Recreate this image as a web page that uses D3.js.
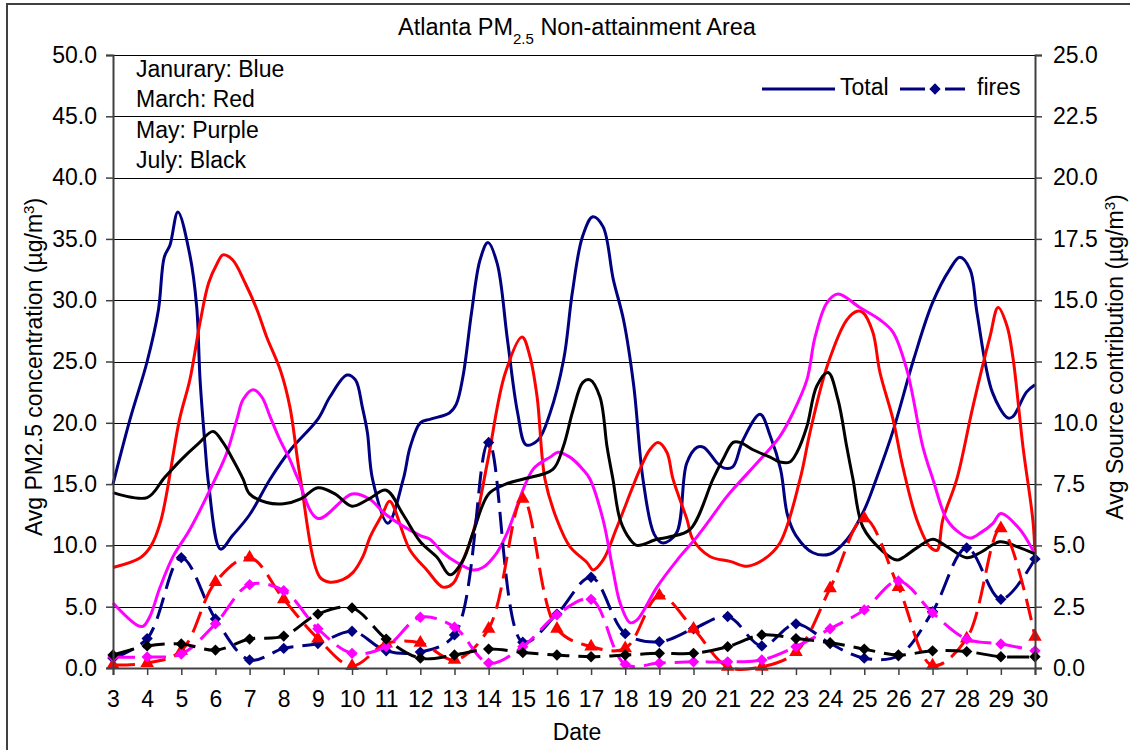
<!DOCTYPE html>
<html>
<head>
<meta charset="utf-8">
<script src="https://cdn.jsdelivr.net/npm/d3@7/dist/d3.min.js"></script>
<style>
body { margin: 0; background: #fff; }
svg text { font-family: Arial, "Liberation Sans", sans-serif; fill: #000; }
</style>
</head>
<body>
<div id="chart"></div>
<script>
// x categories and axis ticks
var dates = [3,4,5,6,7,8,9,10,11,12,13,14,15,16,17,18,19,20,21,22,23,24,25,26,27,28,29,30];
var leftTicks = [0,5,10,15,20,25,30,35,40,45,50];
var rightTicks = [0,2.5,5,7.5,10,12.5,15,17.5,20,22.5,25];
var months = ["January","March","May","July"];
var monthColors = ["#000080","#ff0000","#ff00ff","#000000"];
var notes = ["Janurary: Blue","March: Red","May: Purple","July: Black"];

// Total (left axis), read as [date, value]
var janTotal = [[3,15],[3.5,20.3],[4,25],[4.33,29.2],[4.5,33.5],[4.67,34.5],[4.9,37.2],[5.25,33.7],[5.45,29.5],[5.55,23.5],[5.7,18],[5.8,15],[6.15,9.7],[6.5,10.8],[7,12.5],[7.6,15.4],[8.2,17.8],[9,20.3],[9.35,22.1],[9.85,23.9],[10.1,23.5],[10.3,21.3],[10.45,19.2],[10.6,15.4],[11.05,11.8],[11.5,15.4],[11.7,18],[12,20],[12.3,20.3],[12.85,20.8],[13.05,21.5],[13.25,23.8],[13.5,29],[13.75,33.3],[13.98,34.7],[14.25,33],[14.55,26.8],[14.85,20.8],[15.1,18.2],[15.45,18.6],[15.8,20.8],[16.2,25.2],[16.45,30.6],[16.75,35.2],[17.05,36.8],[17.35,36],[17.65,31.7],[17.95,28.4],[18.25,23],[18.52,15.4],[18.85,10.9],[19.1,10.2],[19.5,11],[19.8,16.7],[20.1,18],[20.3,18],[20.7,16.7],[20.9,16.3],[21.15,16.4],[21.45,18.6],[21.95,20.7],[22.25,18.9],[22.55,16.2],[22.75,12.5],[23,10.8],[23.5,9.4],[24,9.3],[24.5,10.5],[25,12.9],[25.35,15.4],[25.85,19.4],[26.45,25.2],[27,29.8],[27.5,32.5],[27.8,33.5],[28.1,32.5],[28.3,29],[28.75,22.5],[29.2,20.4],[29.35,20.5],[29.75,22.5],[30,23.1]];
var marTotal = [[3,8.2],[3.8,9.0],[4.1,9.9],[4.4,12],[4.95,20.3],[5.25,23.5],[5.55,28.2],[5.8,31.4],[6.05,33],[6.22,33.7],[6.5,33.3],[6.87,31.4],[7.22,29.2],[7.5,27],[7.9,24.3],[8.18,21.3],[8.48,15.6],[9.06,7.4],[9.35,7.0],[9.73,7.2],[10.03,7.8],[10.32,9.1],[10.53,10.7],[10.9,12.6],[11.1,13.6],[11.7,9.6],[12.19,8],[12.66,6.6],[12.96,6.9],[13.25,8.8],[13.54,11],[13.98,17],[14.48,24],[14.98,27],[15.21,25.4],[15.42,22.1],[15.65,15.4],[16,12.1],[16.38,9.9],[16.88,8.6],[17.06,8],[17.35,8.8],[17.76,11.5],[18.43,16.2],[18.72,17.8],[18.96,18.4],[19.22,17.6],[19.4,15.4],[19.81,12.1],[19.98,10.5],[20.48,9.1],[21.07,8.7],[21.57,8.3],[22.03,8.8],[22.53,10.2],[23.12,15.4],[23.41,19.2],[23.91,24.6],[24.49,28.4],[24.79,29.1],[24.96,29],[25.25,27.4],[25.46,24.1],[25.84,20.3],[26.13,16.4],[26.54,12.1],[26.92,9.9],[27.13,9.6],[27.3,12.1],[27.71,15.4],[28.18,21.3],[28.68,27],[28.92,29.4],[29.18,27.9],[29.35,25.4],[29.65,18],[29.94,12],[30,9.3]];
var mayTotal = [[3,5.3],[3.7,3.5],[3.88,3.4],[4.08,4.2],[4.38,6.6],[4.76,9.1],[5.25,11.3],[5.99,15.4],[6.34,17.6],[6.63,20.3],[6.81,21.9],[7.1,22.7],[7.36,22.1],[7.6,20.5],[7.89,18.6],[8.18,17],[8.42,15.4],[9,12.2],[10,14.2],[10.5,13.8],[11,12.5],[12,10.8],[12.28,10.5],[12.66,9.4],[13.07,8.6],[13.54,8],[13.83,8.2],[14.24,9.4],[14.54,11],[15.3,16.2],[15.8,17.2],[16.03,17.6],[16.38,17.2],[16.76,16.2],[16.97,15.4],[17.35,12.1],[17.64,8],[17.85,5.3],[18.14,3.7],[18.34,3.9],[18.93,6.6],[19.52,8.8],[20.1,10.7],[20.48,12.1],[20.98,14],[21.95,17],[22.53,18.9],[22.91,20.8],[23.32,23.5],[23.56,27],[23.91,29.8],[24.23,30.5],[24.87,29.4],[25.46,28.4],[25.84,27.4],[26.25,24.3],[26.72,18],[27.01,15.4],[27.42,12.1],[27.8,11],[28.1,10.6],[28.39,11],[28.77,11.8],[29,12.6],[29.56,11.3],[29.94,9.6],[30,9.3]];
var julTotal = [[3,14.3],[4,13.9],[4.5,15.5],[5,17],[5.5,18.3],[5.93,19.3],[6.22,18.4],[6.51,17],[6.81,15.4],[7,14.2],[7.5,13.5],[8,13.4],[8.5,13.8],[9,14.7],[9.5,14.2],[10,13.2],[10.5,13.8],[11,14.5],[11.5,12.5],[12,10.3],[12.5,9],[12.87,7.6],[13.25,8.8],[13.54,11],[14,14.2],[14.5,15],[15,15.4],[15.88,16.2],[16.18,18],[16.47,21],[16.76,23.3],[16.97,23.5],[17.26,22.1],[17.47,18],[17.64,15.4],[17.85,12.1],[18.14,10.5],[18.34,10],[18.93,10.5],[19.31,10.7],[19.9,11.3],[20.57,15.4],[20.86,17],[21.16,18.4],[21.36,18.4],[21.74,17.8],[22.24,17.2],[22.53,16.8],[22.82,16.8],[23.03,17.6],[23.32,19.7],[23.61,23],[23.94,24.1],[24.23,21.9],[24.49,18],[24.67,15.4],[24.96,11.5],[25.55,9.5],[25.96,8.8],[26.13,9],[26.54,9.8],[27.01,10.5],[27.42,9.9],[28,9],[28.39,9.4],[28.97,10.3],[29.47,9.9],[30,9.3]];

// fires (right axis), one value per date
var janFires = [0.4,1.2,4.5,2.0,0.33,0.8,1.0,1.5,0.7,0.65,1.35,9.2,1.05,2.2,3.7,1.4,1.07,1.6,2.1,0.9,1.8,1.0,0.4,0.5,2.3,4.9,2.8,4.45];
var marFires = [0.12,0.2,0.7,3.5,4.5,2.8,1.2,0.08,1.0,1.03,0.33,1.6,6.9,1.6,0.87,0.8,2.95,1.6,0.05,0.05,0.65,3.25,6.1,3.3,0.1,1.2,5.7,1.27];
var mayFires = [0.45,0.45,0.57,1.8,3.4,3.15,1.6,0.6,0.87,2.07,1.67,0.2,0.87,2.17,2.8,0.15,0.2,0.25,0.25,0.33,0.87,1.6,2.37,3.55,2.25,1.18,0.98,0.7];
var julFires = [0.53,0.9,0.98,0.73,1.18,1.3,2.2,2.45,1.18,0.4,0.53,0.77,0.63,0.53,0.46,0.53,0.6,0.6,0.87,1.35,1.2,1.03,0.77,0.53,0.7,0.67,0.46,0.46];

var totals = [janTotal, marTotal, mayTotal, julTotal];
var fires = [janFires, marFires, mayFires, julFires];
var markerShapes = ["diamond", "triangle", "diamond", "diamond"];

var width = 1130, height = 750;
var plotLeft = 113, plotRight = 1035, plotTop = 55, plotBottom = 668;
var fontSize = "23px";

var svg = d3.select("#chart").append("svg")
    .attr("width", width).attr("height", height);

var x = d3.scaleLinear().domain([3, 30]).range([plotLeft, plotRight]);
var yLeft = d3.scaleLinear().domain([0, 50]).range([plotBottom, plotTop]);
var yRight = d3.scaleLinear().domain([0, 25]).range([plotBottom, plotTop]);

function MarkerPath(shape) {
    if (shape == "triangle") return d3.symbol().type(d3.symbolTriangle).size(80)();
    return d3.symbol().type(d3.symbolSquare).size(64)();
}

function DrawFrame() {
    svg.append("rect")
        .attr("x", 7).attr("y", 4)
        .attr("width", 1140).attr("height", 780)
        .style("fill", "none").style("stroke", "#404040").style("stroke-width", 2);
}

function DrawGrid() {
    svg.append("g").selectAll("line").data(leftTicks).enter().append("line")
        .attr("x1", plotLeft).attr("x2", plotRight)
        .attr("y1", function(d) { return Math.round(yLeft(d)) + 0.5; })
        .attr("y2", function(d) { return Math.round(yLeft(d)) + 0.5; })
        .style("stroke", "#000").style("stroke-width", 1);
}

function DrawAxes() {
    var fmt = d3.format(".1f");
    var left = svg.append("g").attr("transform", "translate(" + plotLeft + ",0)")
        .call(d3.axisLeft(yLeft).tickValues(leftTicks).tickFormat(fmt).tickSize(7).tickPadding(9));
    var right = svg.append("g").attr("transform", "translate(" + plotRight + ",0)")
        .call(d3.axisRight(yRight).tickValues(rightTicks).tickFormat(fmt).tickSize(7).tickPadding(11));
    var bottom = svg.append("g").attr("transform", "translate(0," + plotBottom + ")")
        .call(d3.axisBottom(x).tickValues(dates).tickFormat(d3.format("d")).tickSize(7).tickPadding(16));
    [left, right, bottom].forEach(function(g) {
        g.select(".domain").style("stroke", "#404040").style("stroke-width", 2);
        g.selectAll(".tick line").style("stroke", "#404040").style("stroke-width", 1.5);
        g.selectAll(".tick text").style("font-size", fontSize).style("font-family", "Arial, 'Liberation Sans', sans-serif");
    });
}

function DrawTotals() {
    var line = d3.line()
        .x(function(d) { return x(d[0]); })
        .y(function(d) { return yLeft(d[1]); })
        .curve(d3.curveCatmullRom.alpha(0.5));
    totals.forEach(function(series, i) {
        svg.append("path").datum(series)
            .attr("d", line)
            .attr("class", "total-" + months[i])
            .style("fill", "none").style("stroke", monthColors[i]).style("stroke-width", 3);
    });
}

function DrawFires() {
    var line = d3.line()
        .x(function(d, i) { return x(dates[i]); })
        .y(function(d) { return yRight(d); })
        .curve(d3.curveCatmullRom.alpha(0.5));
    fires.forEach(function(series, i) {
        var g = svg.append("g").attr("class", "fires-" + months[i]);
        g.append("path").datum(series)
            .attr("d", line)
            .style("fill", "none").style("stroke", monthColors[i])
            .style("stroke-width", 3).style("stroke-dasharray", "22,9");
        var path = MarkerPath(markerShapes[i]);
        g.selectAll(".marker").data(series).enter().append("path")
            .attr("class", "marker")
            .attr("d", path)
            .attr("transform", function(d, j) {
                var t = "translate(" + x(dates[j]) + "," + yRight(d) + ")";
                if (markerShapes[i] == "diamond") t += " rotate(45)";
                return t;
            })
            .style("fill", monthColors[i]);
    });
}

function DrawText() {
    var title = svg.append("text").attr("x", 577).attr("y", 35)
        .attr("text-anchor", "middle").style("font-size", "23.5px");
    title.append("tspan").text("Atlanta PM");
    title.append("tspan").attr("baseline-shift", "sub").style("font-size", "15px").text("2.5");
    title.append("tspan").text(" Non-attainment Area");

    svg.append("text").attr("x", 577).attr("y", 740)
        .attr("text-anchor", "middle").style("font-size", fontSize).text("Date");

    var lt = svg.append("text").attr("transform", "translate(42,367) rotate(-90)")
        .attr("text-anchor", "middle").style("font-size", fontSize);
    lt.append("tspan").text("Avg PM2.5 concentration (µg/m");
    lt.append("tspan").attr("baseline-shift", "super").style("font-size", "15px").text("3");
    lt.append("tspan").text(")");

    var rt = svg.append("text").attr("transform", "translate(1123,357) rotate(-90)")
        .attr("text-anchor", "middle").style("font-size", fontSize);
    rt.append("tspan").text("Avg Source contribution (µg/m");
    rt.append("tspan").attr("baseline-shift", "super").style("font-size", "15px").text("3");
    rt.append("tspan").text(")");

    svg.append("g").selectAll("text").data(notes).enter().append("text")
        .attr("x", 136)
        .attr("y", function(d, i) { return 77 + i * 30.4; })
        .style("font-size", fontSize)
        .text(function(d) { return d; });
}

function DrawLegend() {
    var g = svg.append("g").attr("class", "legend");
    g.append("line").attr("x1", 762).attr("x2", 835).attr("y1", 89).attr("y2", 89)
        .style("stroke", monthColors[0]).style("stroke-width", 3);
    g.append("text").attr("x", 840).attr("y", 95).style("font-size", fontSize).text("Total");
    g.append("line").attr("x1", 900).attr("x2", 925).attr("y1", 89).attr("y2", 89)
        .style("stroke", monthColors[0]).style("stroke-width", 3);
    g.append("line").attr("x1", 945).attr("x2", 965).attr("y1", 89).attr("y2", 89)
        .style("stroke", monthColors[0]).style("stroke-width", 3);
    g.append("path").attr("d", MarkerPath("diamond"))
        .attr("transform", "translate(935,89) rotate(45)")
        .style("fill", monthColors[0]);
    g.append("text").attr("x", 977).attr("y", 95).style("font-size", fontSize).text("fires");
}

DrawFrame();
DrawGrid();
DrawTotals();
DrawFires();
DrawAxes();
DrawText();
DrawLegend();
</script>
</body>
</html>
